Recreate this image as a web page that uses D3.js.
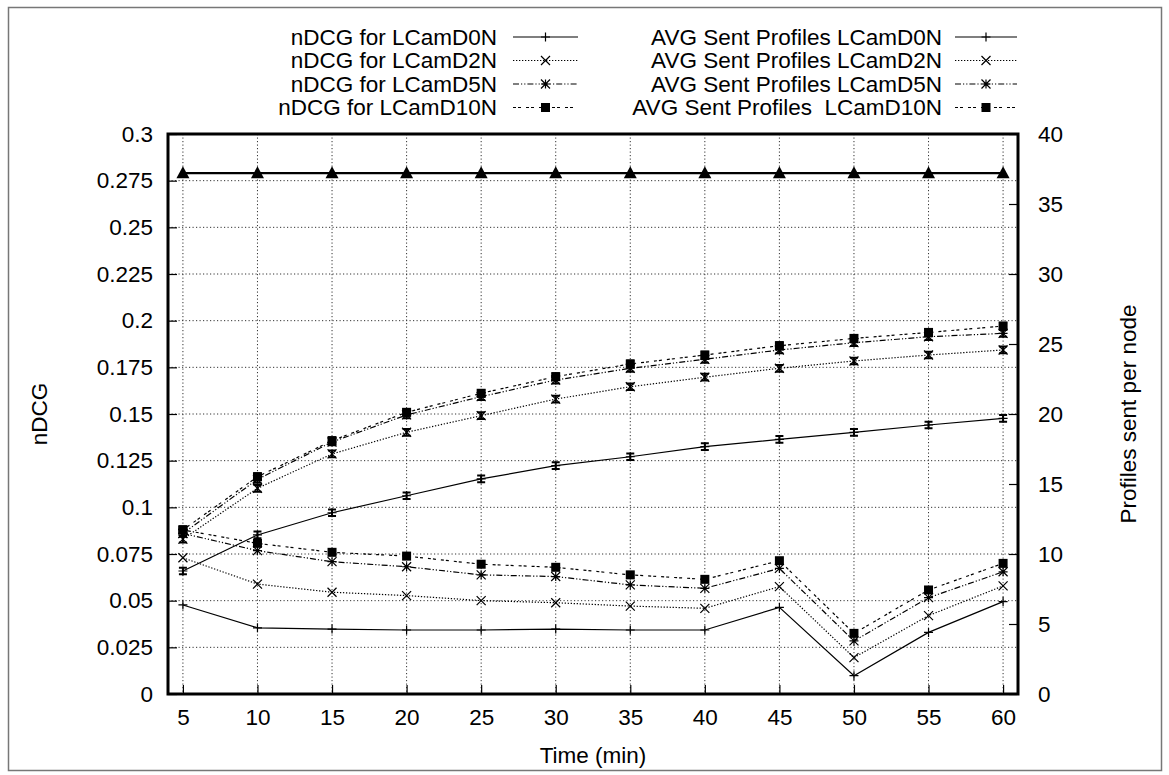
<!DOCTYPE html>
<html lang="en">
  <head>
    <meta charset="UTF-8">
    <title>nDCG and sent profiles</title>
    <style>
      body { margin: 0; background: #fff; }
      text {
        font-family: "Liberation Sans", Arial, sans-serif;
        font-size: 22.5px;
        fill: #000;
      }
      .grid line {
        stroke: #333;
        stroke-width: 1;
        stroke-dasharray: 1.2,2.3;
      }
    </style>
  </head>
  <body>
    <svg id="chart"></svg>

    <script src="https://cdn.jsdelivr.net/npm/d3@7"></script>

    <script>
      // Time axis (minutes)
      var times = [5, 10, 15, 20, 25, 30, 35, 40, 45, 50, 55, 60];

      // nDCG per setup (left axis)
      var ndcgD0  = [0.0659, 0.0852, 0.0971, 0.1062, 0.1152, 0.1223, 0.1271, 0.1325, 0.1364, 0.1402, 0.1441, 0.1477];
      var ndcgD2  = [0.0830, 0.1102, 0.1286, 0.1402, 0.1491, 0.1580, 0.1646, 0.1697, 0.1745, 0.1784, 0.1816, 0.1843];
      var ndcgD5  = [0.0860, 0.1150, 0.1350, 0.1495, 0.1593, 0.1682, 0.1745, 0.1793, 0.1843, 0.1882, 0.1914, 0.1932];
      var ndcgD10 = [0.0879, 0.1164, 0.1357, 0.1509, 0.1611, 0.1700, 0.1768, 0.1816, 0.1866, 0.1905, 0.1937, 0.1971];
      var ndcgErr = [0.0018, 0.0018, 0.0018, 0.0018, 0.0018, 0.0018, 0.0018, 0.0018, 0.0018, 0.0018, 0.0018, 0.0018];

      // unlabelled reference line (left axis)
      var bestNdcg = [0.279, 0.279, 0.279, 0.279, 0.279, 0.279, 0.279, 0.279, 0.279, 0.279, 0.279, 0.279];

      // average sent profiles per node (right axis)
      var sentD0  = [6.36, 4.73, 4.64, 4.57, 4.57, 4.64, 4.57, 4.57, 6.19, 1.31, 4.40, 6.60];
      var sentD2  = [9.73, 7.85, 7.27, 7.03, 6.67, 6.52, 6.28, 6.12, 7.67, 2.60, 5.60, 7.72];
      var sentD5  = [11.47, 10.24, 9.45, 9.09, 8.51, 8.39, 7.79, 7.55, 8.97, 3.79, 6.88, 8.73];
      var sentD10 = [11.72, 10.76, 10.12, 9.85, 9.27, 9.05, 8.51, 8.19, 9.52, 4.33, 7.43, 9.33];

      var leftTicks  = [0, 0.025, 0.05, 0.075, 0.1, 0.125, 0.15, 0.175, 0.2, 0.225, 0.25, 0.275, 0.3];
      var rightTicks = [0, 5, 10, 15, 20, 25, 30, 35, 40];

      var width = 1169, height = 775;
      var plot = { left: 168, right: 1018, top: 134, bottom: 694 };

      var svg = d3.select("#chart")
        .attr("width", width)
        .attr("height", height);

      var x = d3.scaleLinear().domain([4, 61]).range([plot.left, plot.right]);
      var y = d3.scaleLinear().domain([0, 0.3]).range([plot.bottom, plot.top]);
      var y2 = d3.scaleLinear().domain([0, 40]).range([plot.bottom, plot.top]);

      // outer frame
      svg.append("rect")
        .attr("x", 8.5).attr("y", 7.5)
        .attr("width", 1153).attr("height", 763)
        .attr("fill", "none")
        .attr("stroke", "#777")
        .attr("stroke-width", 1.5);

      // grid
      var grid = svg.append("g").attr("class", "grid");
      grid.selectAll(".gx")
        .data(times)
        .enter().append("line")
        .attr("x1", function(d) { return x(d); })
        .attr("x2", function(d) { return x(d); })
        .attr("y1", plot.top)
        .attr("y2", plot.bottom);
      grid.selectAll(".gy")
        .data(leftTicks.slice(1, -1))
        .enter().append("line")
        .attr("x1", plot.left)
        .attr("x2", plot.right)
        .attr("y1", function(d) { return y(d); })
        .attr("y2", function(d) { return y(d); });

      // axes
      var fmt = function(d) { return String(+d.toFixed(3)); };

      var xAxis = svg.append("g")
        .attr("transform", "translate(0," + plot.bottom + ")")
        .call(d3.axisBottom(x).tickValues(times).tickSize(-9).tickPadding(15));

      var yAxis = svg.append("g")
        .attr("transform", "translate(" + plot.left + ",0)")
        .call(d3.axisLeft(y).tickValues(leftTicks).tickFormat(fmt).tickSize(-9).tickPadding(15));

      var y2Axis = svg.append("g")
        .attr("transform", "translate(" + plot.right + ",0)")
        .call(d3.axisRight(y2).tickValues(rightTicks).tickSize(-9).tickPadding(20));

      [xAxis, yAxis, y2Axis].forEach(function(a) {
        a.select(".domain").remove();
        a.selectAll(".tick line").attr("stroke", "#000").attr("stroke-width", 1.2);
        a.selectAll("text")
          .attr("font-family", null)
          .attr("font-size", null);
      });

      // axis titles
      svg.append("text")
        .attr("x", (plot.left + plot.right) / 2)
        .attr("y", 763)
        .attr("text-anchor", "middle")
        .text("Time (min)");

      svg.append("text")
        .attr("transform", "translate(47," + ((plot.top + plot.bottom) / 2) + ") rotate(-90)")
        .attr("text-anchor", "middle")
        .text("nDCG");

      svg.append("text")
        .attr("transform", "translate(1136," + ((plot.top + plot.bottom) / 2) + ") rotate(-90)")
        .attr("text-anchor", "middle")
        .text("Profiles sent per node");

      // point symbols in the gnuplot manner
      function drawPoint(g, shape, cx, cy) {
        var s = 4.5;
        if (shape === "plus") {
          g.append("path").attr("d", "M" + (cx - s) + "," + cy + "H" + (cx + s) + "M" + cx + "," + (cy - s) + "V" + (cy + s))
            .attr("stroke", "#000").attr("stroke-width", 1.2);
        } else if (shape === "cross") {
          g.append("path").attr("d", "M" + (cx - s) + "," + (cy - s) + "L" + (cx + s) + "," + (cy + s) +
              "M" + (cx - s) + "," + (cy + s) + "L" + (cx + s) + "," + (cy - s))
            .attr("stroke", "#000").attr("stroke-width", 1.2);
        } else if (shape === "star") {
          g.append("path").attr("d", "M" + (cx - s) + "," + cy + "H" + (cx + s) + "M" + cx + "," + (cy - s) + "V" + (cy + s) +
              "M" + (cx - s) + "," + (cy - s) + "L" + (cx + s) + "," + (cy + s) +
              "M" + (cx - s) + "," + (cy + s) + "L" + (cx + s) + "," + (cy - s))
            .attr("stroke", "#000").attr("stroke-width", 1.2);
        } else if (shape === "square") {
          g.append("rect").attr("x", cx - 4.5).attr("y", cy - 4.5).attr("width", 9).attr("height", 9).attr("fill", "#000");
        } else if (shape === "triangle") {
          g.append("path").attr("d", "M" + (cx - 6.5) + "," + (cy + 5) + "L" + cx + "," + (cy - 7) + "L" + (cx + 6.5) + "," + (cy + 5) + "Z")
            .attr("fill", "#000");
        }
      }

      var dashes = {
        solid: null,
        dotted: "1.3,1.7",
        dashdot: "6,2,1.2,2,1.2,2",
        dashed: "3,2,3,5"
      };

      var series = [
        { label: "nDCG for LCamD0N",  values: ndcgD0,  axis: y, dash: "solid",   shape: "plus",   err: true, col: 0, row: 0 },
        { label: "nDCG for LCamD2N",  values: ndcgD2,  axis: y, dash: "dotted",  shape: "cross",  err: true, col: 0, row: 1 },
        { label: "nDCG for LCamD5N",  values: ndcgD5,  axis: y, dash: "dashdot", shape: "star",   err: true, col: 0, row: 2 },
        { label: "nDCG for LCamD10N", values: ndcgD10, axis: y, dash: "dashed",  shape: "square", err: true, col: 0, row: 3 },
        { label: "AVG Sent Profiles LCamD0N",   values: sentD0,  axis: y2, dash: "solid",   shape: "plus",   col: 1, row: 0 },
        { label: "AVG Sent Profiles LCamD2N",   values: sentD2,  axis: y2, dash: "dotted",  shape: "cross",  col: 1, row: 1 },
        { label: "AVG Sent Profiles LCamD5N",   values: sentD5,  axis: y2, dash: "dashdot", shape: "star",   col: 1, row: 2 },
        { label: "AVG Sent Profiles  LCamD10N", values: sentD10, axis: y2, dash: "dashed",  shape: "square", col: 1, row: 3 }
      ];

      var marks = svg.append("g");

      // reference line with triangles
      var refLine = d3.line()
        .x(function(d, i) { return x(times[i]); })
        .y(function(d) { return y(d); });
      marks.append("path")
        .attr("d", refLine(bestNdcg))
        .attr("fill", "none")
        .attr("stroke", "#000")
        .attr("stroke-width", 2.2);
      bestNdcg.forEach(function(v, i) { drawPoint(marks, "triangle", x(times[i]), y(v)); });

      series.forEach(function(s) {
        var line = d3.line()
          .x(function(d, i) { return x(times[i]); })
          .y(function(d) { return s.axis(d); });

        marks.append("path")
          .attr("d", line(s.values))
          .attr("fill", "none")
          .attr("stroke", "#000")
          .attr("stroke-width", 1.2)
          .attr("stroke-dasharray", dashes[s.dash]);

        s.values.forEach(function(v, i) {
          var cx = x(times[i]);
          if (s.err) {
            var top = s.axis(v + ndcgErr[i]), bot = s.axis(v - ndcgErr[i]);
            marks.append("path")
              .attr("d", "M" + cx + "," + top + "V" + bot +
                "M" + (cx - 4) + "," + top + "H" + (cx + 4) +
                "M" + (cx - 4) + "," + bot + "H" + (cx + 4))
              .attr("stroke", "#000")
              .attr("stroke-width", 2);
          }
          drawPoint(marks, s.shape, cx, s.axis(v));
        });
      });

      // legend
      var legend = svg.append("g");
      var legCols = [
        { textRight: 497, x1: 513, x2: 578 },
        { textRight: 942, x1: 955, x2: 1017 }
      ];
      var rowY = [37, 60.5, 84, 107.5];

      series.forEach(function(s) {
        var c = legCols[s.col], ly = rowY[s.row];
        legend.append("text")
          .attr("x", c.textRight)
          .attr("y", ly)
          .attr("dy", "0.35em")
          .attr("text-anchor", "end")
          .style("white-space", "pre")
          .text(s.label);
        legend.append("line")
          .attr("x1", c.x1).attr("x2", c.x2)
          .attr("y1", ly).attr("y2", ly)
          .attr("stroke", "#000")
          .attr("stroke-width", 1.2)
          .attr("stroke-dasharray", dashes[s.dash]);
        drawPoint(legend, s.shape, (c.x1 + c.x2) / 2, ly);
      });

      // plot border
      svg.append("rect")
        .attr("x", plot.left).attr("y", plot.top)
        .attr("width", plot.right - plot.left)
        .attr("height", plot.bottom - plot.top)
        .attr("fill", "none")
        .attr("stroke", "#000")
        .attr("stroke-width", 3);
    </script>
  </body>
</html>
